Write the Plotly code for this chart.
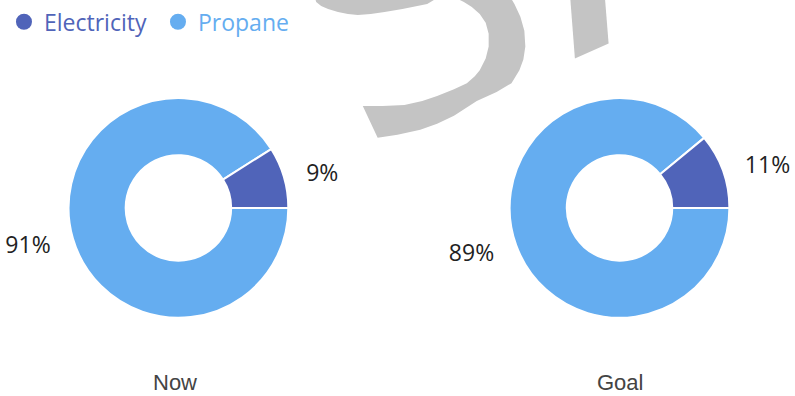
import plotly.graph_objects as go

W, H = 795, 396

categories = ["Electricity", "Propane"]
now_values = [9, 91]
goal_values = [11, 89]
pie_titles = ["Now", "Goal"]
colors = ["#5064b9", "#65adf0"]

def px(x, y):
    return x / W, 1 - y / H

def path_from(points):
    parts = []
    for i, (x, y) in enumerate(points):
        a, b = px(x, y)
        parts.append(("M" if i == 0 else "L") + f"{a:.5f},{b:.5f}")
    return " ".join(parts) + " Z"

# watermark decoration (grey glyph fragments)
wm1 = [(365,103),(385,103),(407,102),(425,98),(440,93),(457,86),(470,80),(478,73),(483,67),
       (489,55),(492,43),(492,30),(489,19),(483,10),(475,3),(467,-2),(455,-8),(440,-6),(430,0),
       (420,2),(405,5),(387,8),(373,10),(360,11),(350,10),(340,8),(330,5),(323,2),(318,-2),
       (310,-30),(420,-45),(500,-30),(518,0),(524,13),(528,27),(529,43),(527,56),(523,67),
       (515,80),(500,89),(480,98),(457,113),(440,121),(423,127),(400,132),(380,135)]
wm2 = [(574,-10),(609,-10),(613,40),(579,55)]

fig = go.Figure()

def domain_for(cx, cy, r):
    x0, y1 = px(cx - r, cy - r)
    x1, y0 = px(cx + r, cy + r)
    return dict(x=[x0, x1], y=[y0, y1])

centers = [(179, 206), (624, 206)]
title_x = [175.5, 624.5]
R = 111
R_LABEL = 126
for vals, (cx, cy) in zip([now_values, goal_values], centers):
    # invisible, slightly larger pie that carries the outside percentage labels
    fig.add_trace(go.Pie(
        labels=categories[::-1], values=vals[::-1], sort=False, direction="clockwise",
        rotation=90, domain=domain_for(cx, cy, R_LABEL),
        marker=dict(colors=["rgba(0,0,0,0)"] * 2, line=dict(width=0)),
        textposition="outside", texttemplate="%{percent}",
        textfont=dict(family="Open Sans", size=23, color="#222222"),
        showlegend=False, hoverinfo="skip",
    ))
    # visible donut: Propane drawn first (clockwise from 3 o'clock) so Electricity ends at 3 o'clock
    fig.add_trace(go.Pie(
        labels=categories[::-1], values=vals[::-1], sort=False, direction="clockwise",
        rotation=90, hole=0.48, domain=domain_for(cx, cy, R),
        marker=dict(colors=colors[::-1], line=dict(color="white", width=2)),
        textinfo="none",
        showlegend=False, hoverinfo="label+percent",
    ))

for cat, col in zip(categories, colors):
    fig.add_trace(go.Scatter(
        x=[None], y=[None], mode="markers",
        marker=dict(symbol="circle", size=19, color=col),
        name=f'<span style="color:{col}">{cat}</span>', showlegend=True,
    ))

annotations = []
for tx, title in zip(title_x, pie_titles):
    ax, ay = px(tx, 382)
    annotations.append(dict(x=ax, y=ay, xref="paper", yref="paper", text=title,
                            showarrow=False, xanchor="center", yanchor="middle",
                            font=dict(family="Liberation Sans", size=22, color="#444444")))

lx, ly = px(3, 18)
fig.update_layout(
    width=W, height=H,
    margin=dict(l=0, r=0, t=0, b=0),
    paper_bgcolor="white", plot_bgcolor="white",
    xaxis=dict(visible=False), yaxis=dict(visible=False),
    showlegend=True,
    legend=dict(orientation="h", x=lx, y=ly, xanchor="left", yanchor="middle",
                font=dict(family="Open Sans", size=23), itemsizing="trace",
                entrywidth=109, entrywidthmode="pixels",
                bgcolor="rgba(0,0,0,0)"),
    annotations=annotations,
    shapes=[dict(type="path", path=path_from(p), xref="paper", yref="paper",
                 fillcolor="#c4c4c4", line=dict(width=0), layer="below") for p in (wm1, wm2)],
)

fig.write_html("out.html", config={"displayModeBar": False},
               post_script="document.body.style.margin='0';document.body.style.overflow='hidden';")
